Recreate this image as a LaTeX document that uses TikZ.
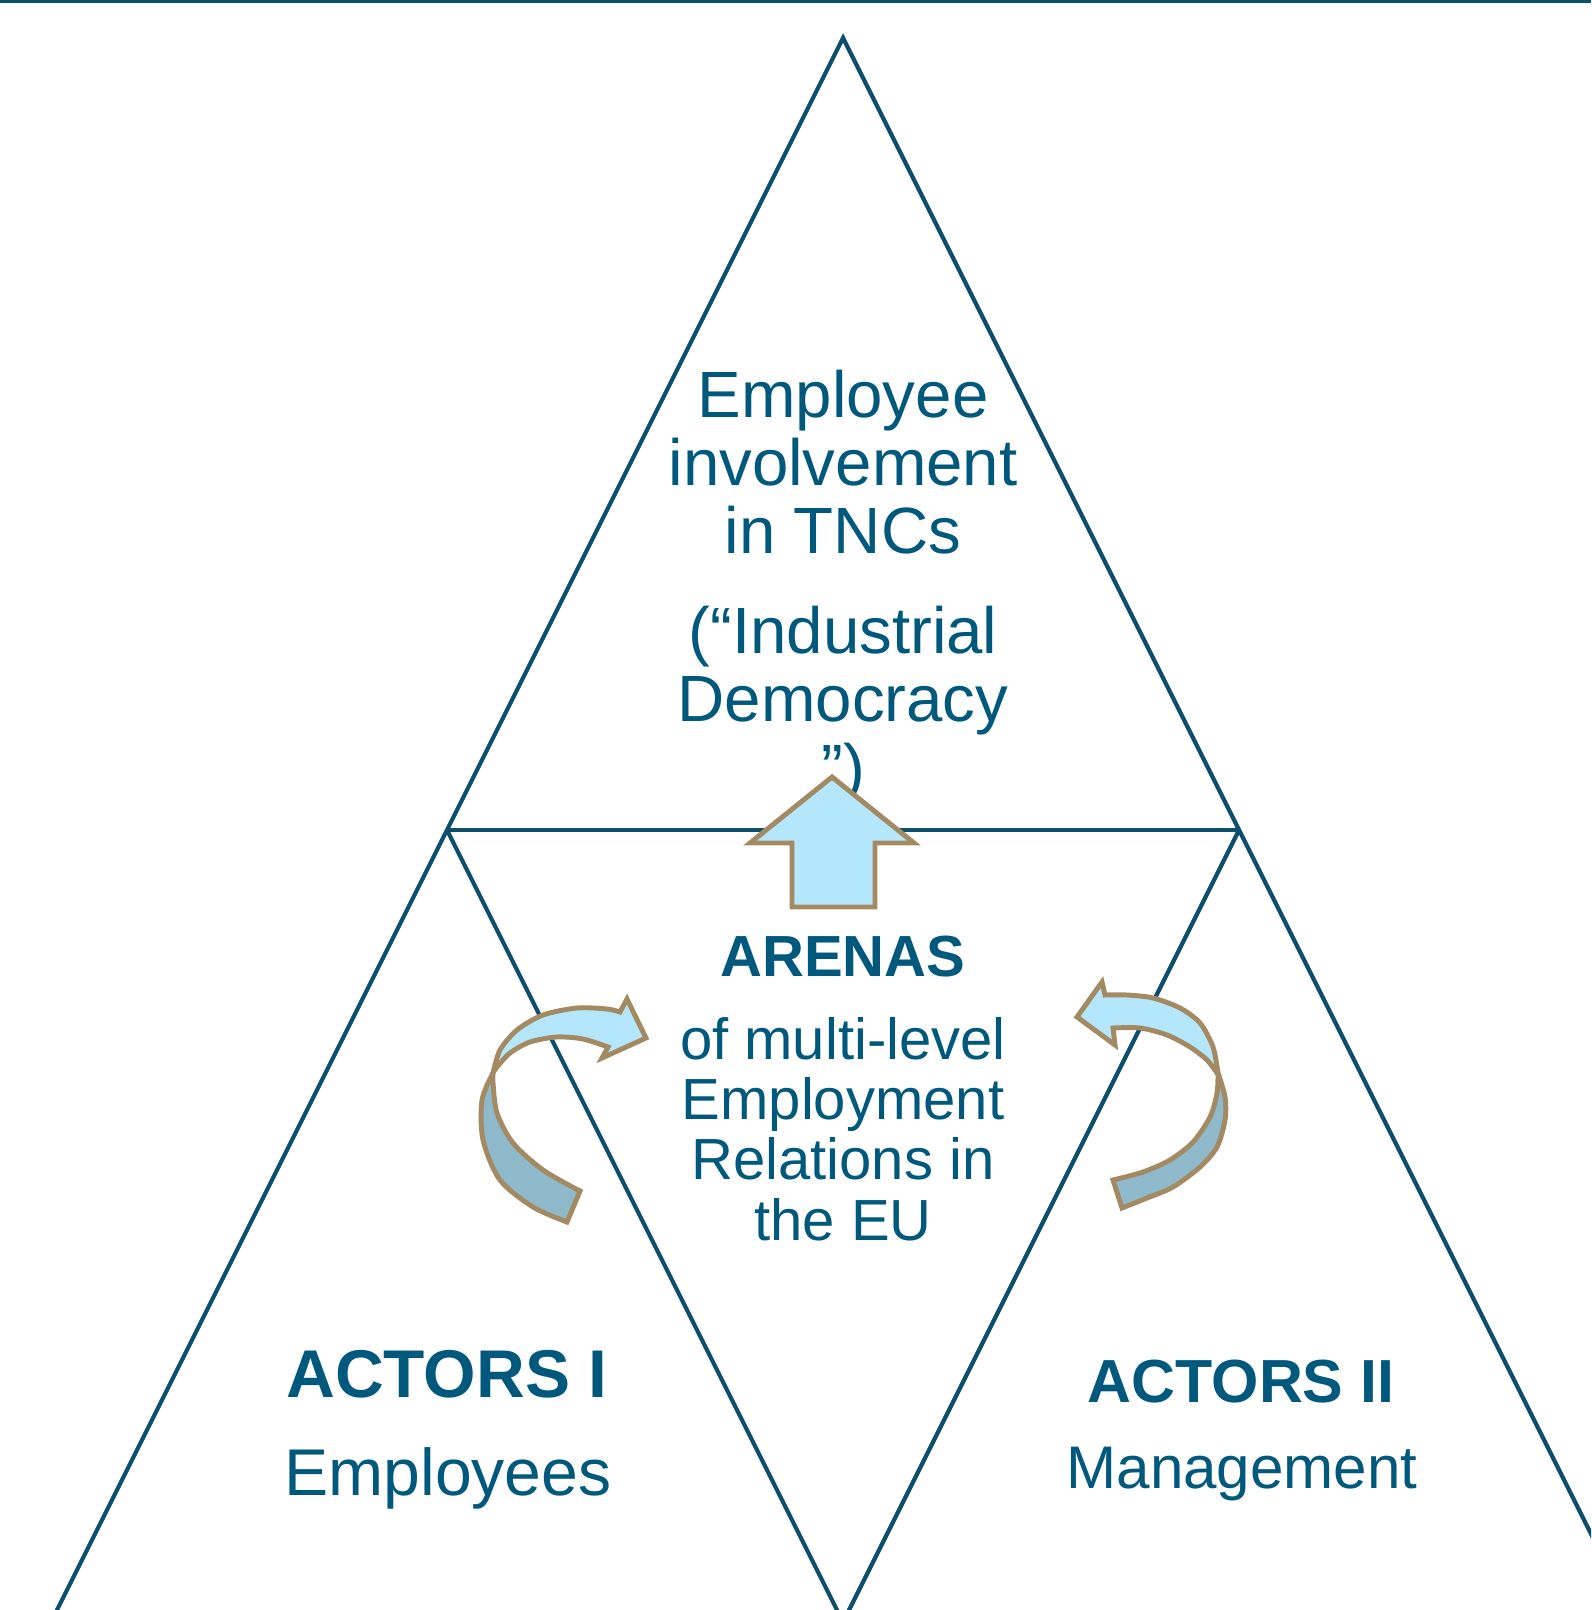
\documentclass[tikz,border=0pt]{standalone}
\usepackage{fontspec}
\setmainfont{Liberation Sans}
\definecolor{linecol}{RGB}{12,78,108}
\definecolor{textcol}{RGB}{0,88,125}
\definecolor{arrowlight}{RGB}{180,230,252}
\definecolor{arrowdark}{RGB}{143,186,204}
\definecolor{arrowedge}{RGB}{163,138,98}

\begin{document}
\begin{tikzpicture}[
    x=0.01cm, y=-0.01cm,
    line style/.style={draw=linecol, line width=1.2pt},
    text style/.style={text=textcol, inner sep=0pt, align=center, anchor=base},
    big text style/.style={text style, font=\fontsize{18.6}{19.4}\selectfont},
    mid text style/.style={text style, font=\fontsize{16.5}{17.1}\selectfont},
    arrow style/.style={draw=arrowedge, line width=1.4pt, fill=arrowlight},
    back style/.style={draw=arrowedge, line width=1.4pt, fill=arrowdark}
]

\useasboundingbox (0,0) rectangle (1591,1610);

% Top rule
\fill[linecol] (0,0) rectangle (1591,3.5);

% Corners of the triangles
\coordinate (apex) at (843,38);
\coordinate (jl) at (447,830);
\coordinate (jr) at (1239,830);
\coordinate (bl) at (51,1622);
\coordinate (bm) at (843,1622);
\coordinate (br) at (1635,1622);

% Draw the triangles
\begin{scope}
\clip (0,0) rectangle (1591,1610);
\draw[line style] (bl) -- (apex) -- (br);
\draw[line style] (jl) -- (jr);
\draw[line style] (jl) -- (bm) -- (jr);
\end{scope}

% Texts (base = baseline of the last line)
\node[big text style] (involve) at (843,790)
    {Employee\\involvement\\in TNCs\\[9pt](“Industrial\\Democracy\\”)};
\node[text style, font=\bfseries\fontsize{16.5}{17}\selectfont] (arenas) at (843,976) {ARENAS};
\node[mid text style] (levels) at (843,1240)
    {of multi-level\\Employment\\Relations in\\the EU};
\node[text style, font=\bfseries\fontsize{19.2}{20}\selectfont] (actorsI) at (447,1397) {ACTORS I};
\node[text style, font=\fontsize{18.8}{19.5}\selectfont] (employees) at (448,1495) {Employees};
\node[text style, font=\bfseries\fontsize{17.3}{18}\selectfont] (actorsII) at (1241,1402) {ACTORS II};
\node[text style, font=\fontsize{17.1}{18}\selectfont] (management) at (1242,1488) {Management};

% Up arrow
\draw[arrow style] (832,777) -- (914,843) -- (875,843) -- (875,907)
    -- (792,907) -- (792,843) -- (750,843) -- cycle;

% Left curved arrow
\draw[back style] (567,1222) -- plot[smooth] coordinates
    {(567,1222) (533,1207) (500,1180) (483,1140) (482,1100) (493,1073)}
    -- plot[smooth] coordinates
    {(493,1073) (493,1083) (497,1113) (513,1143) (543,1170) (580,1191)} -- cycle;
\draw[arrow style] (493,1073) -- plot[smooth] coordinates
    {(493,1073) (500,1050) (517,1030) (543,1015) (577,1008) (607,1009) (620,1012)}
    -- (627,999) -- (646,1038) -- (602,1058) -- (608,1047)
    -- plot[smooth] coordinates
    {(608,1047) (583,1039) (557,1037) (530,1042) (510,1053) (497,1067) (493,1073)} -- cycle;

% Right curved arrow
\draw[back style] (1122,1208) -- plot[smooth] coordinates
    {(1122,1208) (1147,1198) (1173,1187) (1200,1167) (1217,1147) (1225,1120) (1225,1097) (1218,1073)}
    -- plot[smooth] coordinates
    {(1218,1073) (1217,1093) (1210,1117) (1193,1142) (1170,1160) (1143,1172) (1113,1180)} -- cycle;
\draw[arrow style] (1218,1073) -- plot[smooth] coordinates
    {(1218,1073) (1213,1047) (1200,1023) (1180,1008) (1153,998) (1127,995) (1105,995)}
    -- (1102,982) -- (1077,1017) -- (1115,1045) -- (1113,1028)
    -- plot[smooth] coordinates
    {(1113,1028) (1140,1028) (1167,1035) (1190,1047) (1207,1060) (1217,1073)} -- cycle;
\end{tikzpicture}
\end{document}
